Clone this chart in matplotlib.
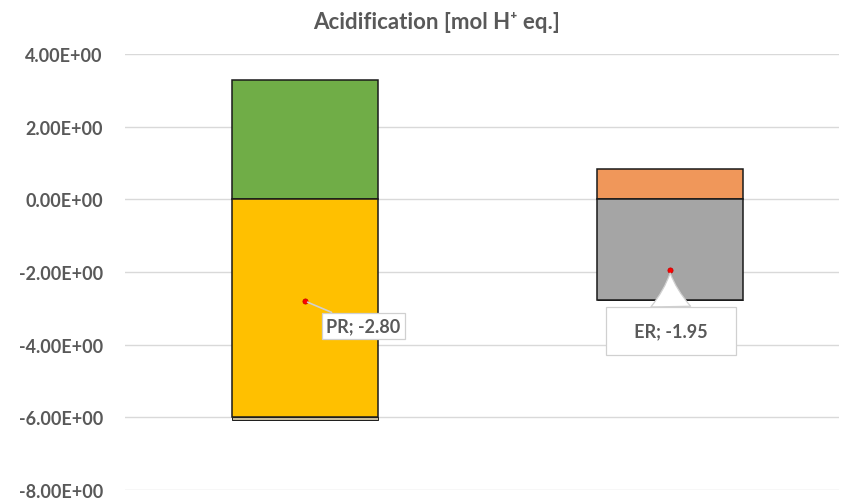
import matplotlib
matplotlib.use("Agg")
import matplotlib.pyplot as plt

# values
categories = ["PR", "ER"]
positive = [3.30, 0.85]
negative = [-5.98, -2.78]
remainder = [-0.09, 0.0]
net = [-2.80, -1.95]

pos_colors = ["#70AD47", "#F0975A"]
neg_colors = ["#FFC000", "#A5A5A5"]
rest_color = "#C8BC9E"
grey_txt = "#595959"

plt.rcParams["font.family"] = ["Lato", "DejaVu Sans"]

fig = plt.figure(figsize=(8.45, 5.02), dpi=100)
ax = fig.add_axes([0.148, 0.022, 0.845, 0.868])

x = list(range(len(categories)))
w = 0.40
ax.bar(x, positive, width=w, color=pos_colors, edgecolor="#1a1a1a", linewidth=1.1, zorder=3)
ax.bar(x, negative, width=w, color=neg_colors, edgecolor="#1a1a1a", linewidth=1.1, zorder=3)
ax.bar(x, remainder, bottom=negative, width=w, color=rest_color, edgecolor="#1a1a1a",
       linewidth=0.7, zorder=3)

ax.scatter(x, net, s=14, color="#FF0000", edgecolor="#C00000", linewidth=0.5, zorder=5)

# data labels with callouts
ax.annotate(f"{categories[0]}; {net[0]:.2f}", xy=(x[0], net[0]), xytext=(x[0] + 0.16, net[0] - 0.68),
            ha="center", va="center", fontsize=13, fontweight="bold", color=grey_txt, zorder=6,
            bbox=dict(boxstyle="square,pad=0.25", fc="white", ec="#D0D0D0", lw=0.9),
            arrowprops=dict(arrowstyle="-", color="#D0D0D0", lw=1.2, shrinkA=0, shrinkB=2))
ax.annotate(f"   {categories[1]}; {net[1]:.2f}   ", xy=(x[1], net[1]), xytext=(x[1] + 0.003, net[1] - 1.67),
            ha="center", va="center", fontsize=13, fontweight="bold", color=grey_txt, zorder=6,
            bbox=dict(boxstyle="square,pad=0.85", fc="white", ec="#D0D0D0", lw=0.9),
            arrowprops=dict(arrowstyle="wedge,tail_width=2.2,shrink_factor=0.4", fc="white",
                            ec="#D0D0D0", lw=0.9, shrinkA=0, shrinkB=2))

ax.set_xlim(-0.493, 1.463)
ax.set_ylim(-8, 4)
ax.set_yticks(range(-8, 5, 2))
ax.yaxis.set_major_formatter(matplotlib.ticker.FuncFormatter(lambda v, p: f"{v:.2E}"))
ax.set_xticks([])
ax.grid(axis="y", color="#D9D9D9", linewidth=1.0, zorder=0)
ax.tick_params(axis="y", length=0, pad=16, labelsize=13, labelcolor=grey_txt)
for lab in ax.get_yticklabels():
    lab.set_fontweight("bold")
for s in ax.spines.values():
    s.set_visible(False)

fig.text(0.517, 0.955, "Acidification [mol H\u207a eq.]", ha="center", va="center",
         fontsize=16, fontweight="bold", color=grey_txt)

fig.savefig("out.png", dpi=100)
